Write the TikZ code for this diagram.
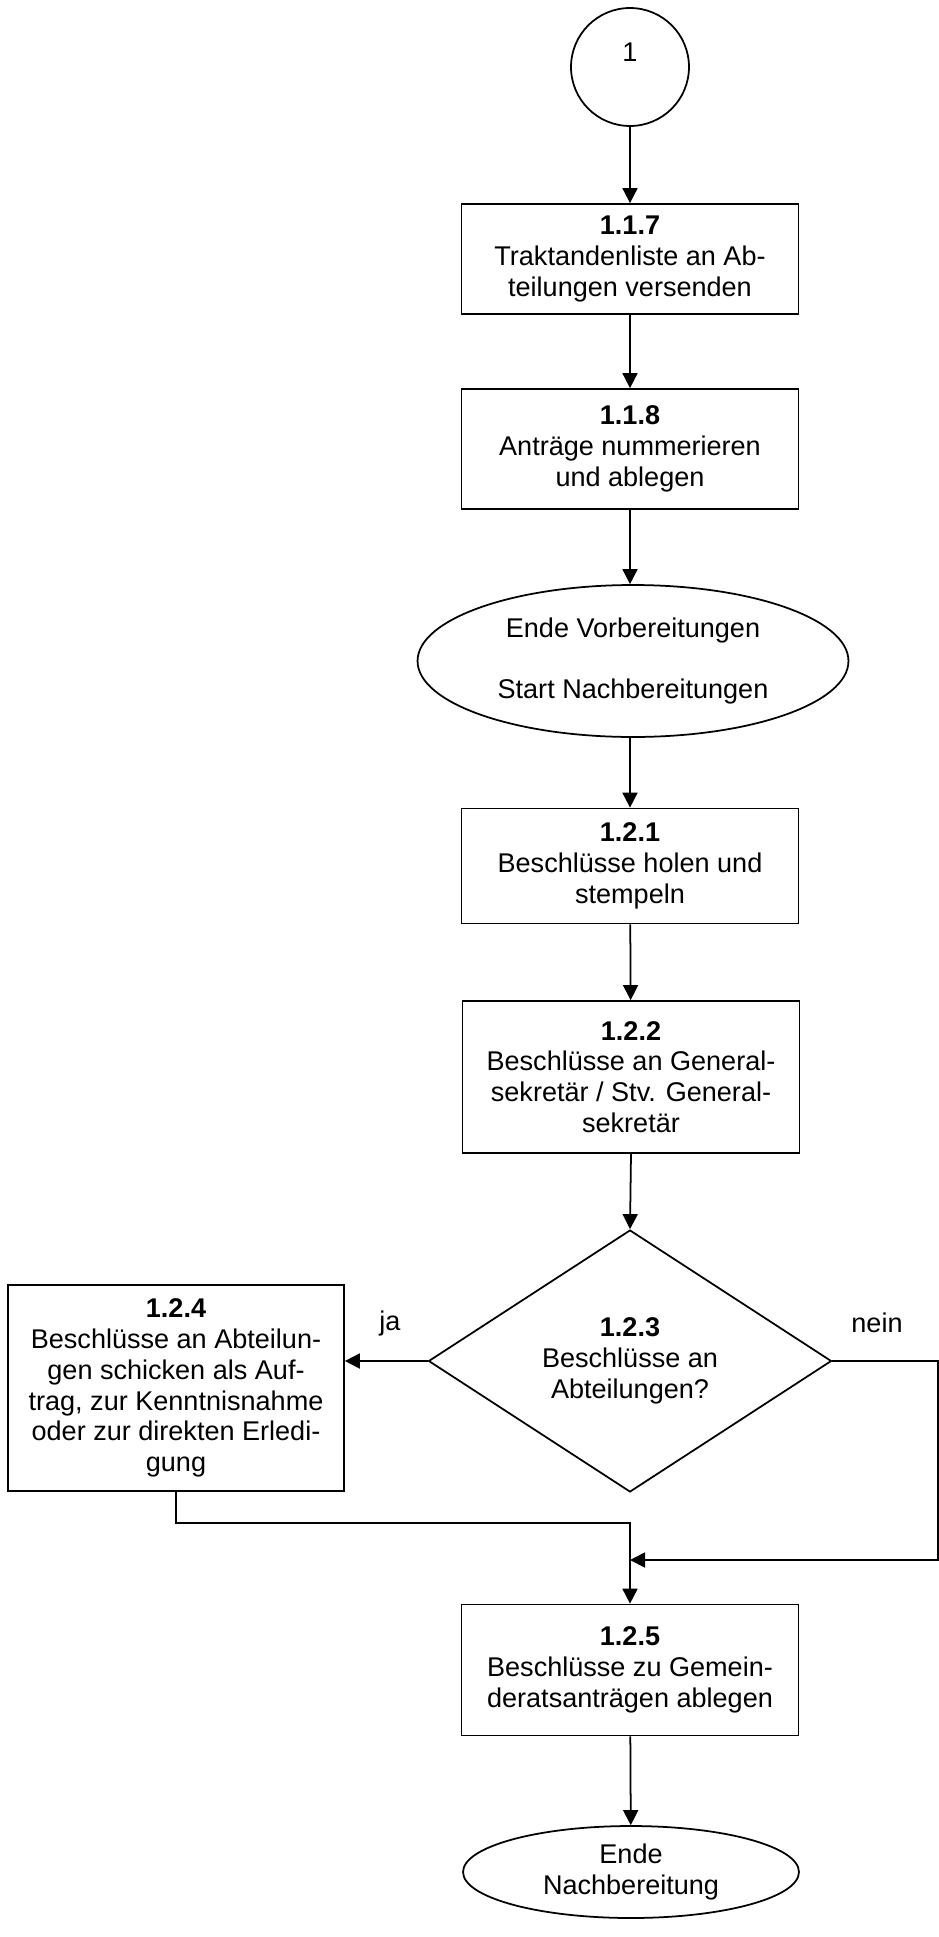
\documentclass[tikz,border=0pt]{standalone}
\usepackage{fontspec}
\setmainfont{Liberation Sans}
\usepackage{tikz}
\usetikzlibrary{
  positioning,
  shapes.geometric,
  arrows.meta
}

\begin{document}
\begin{tikzpicture}[x=0.02cm, y=-0.02cm,
		font=\fontsize{15.4}{17.5}\selectfont,
		line width=1pt,
		arr/.style={-{Triangle[length=0.3cm,width=0.3cm]}},
		task/.style={draw, rectangle, align=center, minimum width=6.74cm, inner sep=0pt},
		terminal/.style={draw, ellipse, align=center, inner sep=0pt}]

		\useasboundingbox (0,0) rectangle (939,1937);

		% connector
		\node[draw, circle, minimum size=2.36cm, text depth=0.6cm] (start) at (630,67) {1};

		% steps 1.1.x
		\node[task, minimum height=2.2cm] (s117) at (630,259) {\textbf{1.1.7}\\Traktandenliste an Ab-\\teilungen versenden};
		\node[task, minimum height=2.4cm] (s118) at (630,449) {\textbf{1.1.8}\\Anträge nummerieren\\und ablegen};

		\node[terminal, minimum width=8.62cm, minimum height=3.04cm] (vorb) at (633,661) {Ende Vorbereitungen\\[17pt]Start Nachbereitungen};

		% steps 1.2.x
		\node[task, minimum height=2.3cm] (s121) at (630,866) {\textbf{1.2.1}\\Beschlüsse holen und\\stempeln};
		\node[task, minimum height=3.04cm] (s122) at (631,1077) {\textbf{1.2.2}\\Beschlüsse an General-\\sekretär / Stv. General-\\sekretär};

		% decision
		\node[draw, diamond, align=center, inner sep=0pt, minimum width=8.06cm, minimum height=4.22cm] (s123) at (630,1361) {\textbf{1.2.3}\\Beschlüsse an\\Abteilungen?};
		\node (ja) at (390,1323) {ja};
		\node (nein) at (877,1323) {nein};

		\node[task, minimum width=6.72cm, minimum height=4.12cm] (s124) at (176,1388) {\textbf{1.2.4}\\Beschlüsse an Abteilun-\\gen schicken als Auf-\\trag, zur Kenntnisnahme\\oder zur direkten Erledi-\\gung};

		\node[task, minimum height=2.62cm] (s125) at (630,1670) {\textbf{1.2.5}\\Beschlüsse zu Gemein-\\deratsanträgen ablegen};

		\node[terminal, minimum width=6.72cm, minimum height=1.84cm] (ende) at (631,1872) {Ende\\Nachbereitung};

		% flow
		\draw[arr] (start) -- (s117);
		\draw[arr] (s117) -- (s118);
		\draw[arr] (s118) -- (vorb.north -| s118.south);
		\draw[arr] (vorb.south -| s121.north) -- (s121);
		\draw[arr] (s121) -- (s122);
		\draw[arr] (s122.south) -- (s123.north);
		\draw[arr] (s123.west) -- (s123.west -| s124.east);

		\coordinate (join) at (630,1523);
		\coordinate (merge) at (630,1560);
		\coordinate (rim) at (938,1560);
		\draw[arr] (s124.south) |- (join) -- (s125.north);
		\draw[arr] (s123.east) -| (rim) -- (merge);
		\draw[arr] (s125) -- (ende);
	\end{tikzpicture}
\end{document}
